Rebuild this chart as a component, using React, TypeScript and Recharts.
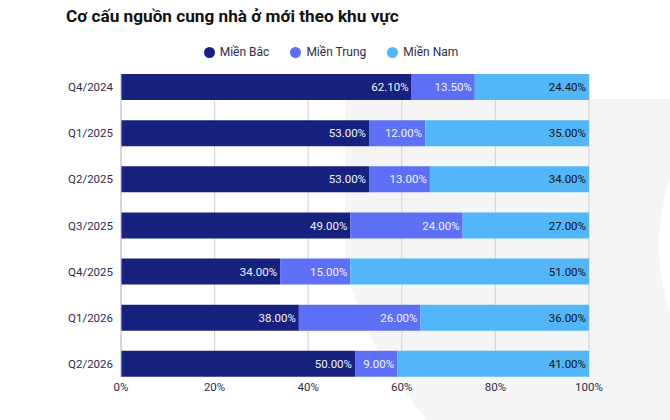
import React from "react";
import { BarChart, Bar, XAxis, YAxis, CartesianGrid, LabelList } from "recharts";

const quarters = ["Q4/2024", "Q1/2025", "Q2/2025", "Q3/2025", "Q4/2025", "Q1/2026", "Q2/2026"];
const mienBac = [62.1, 53, 53, 49, 34, 38, 50];
const mienTrung = [13.5, 12, 13, 24, 15, 26, 9];
const mienNam = [24.4, 35, 34, 27, 51, 36, 41];
const xTicks = [0, 20, 40, 60, 80, 100];

const seriesNames = ["Miền Bắc", "Miền Trung", "Miền Nam"];
const colors = ["#17217e", "#5c6ff5", "#52b6f8"];

const data = quarters.map((q, i) => ({
  quarter: q,
  bac: mienBac[i],
  trung: mienTrung[i],
  nam: mienNam[i],
}));

const FONT = "Roboto, 'Noto Sans', sans-serif";

const fmt = (v: any) => `${Number(v).toFixed(2)}%`;

export default function App() {
  return (
    <div style={{ position: "absolute", left: 0, top: 0, width: 670, height: 420, background: "#fff", overflow: "hidden" }}>
      <svg width={670} height={420} style={{ position: "absolute", left: 0, top: 0 }}>
        <path d="M345,99 L670,99 L670,178 Q648,245 670,312 L670,420 L427,420 Q352,330 345,250 Z" fill="#f5f5f5" />
      </svg>
      <div
        style={{
          position: "absolute",
          left: 66,
          top: 4,
          fontFamily: FONT,
          fontWeight: 700,
          fontSize: 17.2,
          lineHeight: "24px",
          color: "#111",
          whiteSpace: "nowrap",
        }}
      >
        Cơ cấu nguồn cung nhà ở mới theo khu vực
      </div>
      <div
        style={{
          position: "absolute",
          left: 0,
          top: 45,
          width: 662,
          display: "flex",
          justifyContent: "center",
          fontFamily: FONT,
          fontSize: 12,
          lineHeight: "15px",
          color: "#2d2d4a",
        }}
      >
        {seriesNames.map((name, i) => (
          <div key={name} style={{ display: "flex", alignItems: "center", marginLeft: i === 0 ? 0 : 21 }}>
            <span style={{ width: 11, height: 11, borderRadius: "50%", background: colors[i], display: "inline-block", marginRight: 5 }} />
            <span>{name}</span>
          </div>
        ))}
      </div>
      <div style={{ position: "absolute", left: 0, top: 0 }}>
        <BarChart
          width={670}
          height={420}
          data={data}
          layout="vertical"
          margin={{ top: 74, right: 81, bottom: 13, left: 0 }}
          barSize={26}
        >
          <CartesianGrid horizontal={false} stroke="#cfcfd8" />
          <XAxis
            type="number"
            domain={[0, 100]}
            ticks={xTicks}
            tickFormatter={(v: any) => `${v}%`}
            axisLine={false}
            tickLine={false}
            tickMargin={0}
            tick={{ fill: "#2d2d4a", fontSize: 11.5, fontFamily: FONT }}
            interval={0}
          />
          <YAxis
            type="category"
            dataKey="quarter"
            width={121}
            padding={{ top: -10, bottom: -10 }}
            axisLine={{ stroke: "#c4c4cc" }}
            tickLine={false}
            tick={{ fill: "#2d2d4a", fontSize: 11.5, fontFamily: FONT }}
            interval={0}
          />
          <Bar dataKey="bac" name={seriesNames[0]} stackId="a" fill={colors[0]} isAnimationActive={false}>
            <LabelList dataKey="bac" position="insideRight" offset={3} formatter={fmt} fill="#f4f4ff" fontSize={11.5} fontFamily={FONT} />
          </Bar>
          <Bar dataKey="trung" name={seriesNames[1]} stackId="a" fill={colors[1]} isAnimationActive={false}>
            <LabelList dataKey="trung" position="insideRight" offset={3} formatter={fmt} fill="#f4f4ff" fontSize={11.5} fontFamily={FONT} />
          </Bar>
          <Bar dataKey="nam" name={seriesNames[2]} stackId="a" fill={colors[2]} isAnimationActive={false}>
            <LabelList dataKey="nam" position="insideRight" offset={3} formatter={fmt} fill="#111" fontSize={11.5} fontFamily={FONT} />
          </Bar>
        </BarChart>
      </div>
    </div>
  );
}
